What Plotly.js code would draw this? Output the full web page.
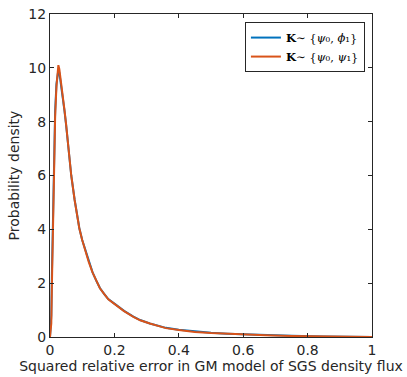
<!DOCTYPE html>
<html>
<head>
<meta charset="utf-8">
<script src="https://cdn.plot.ly/plotly-3.0.1.min.js"></script>
<style>html,body{margin:0;padding:0;background:#fff;}#plot{width:407px;height:377px;}</style>
</head>
<body>
<div id="plot"></div>
<script>
// Squared relative error (x) and probability density (y)
const errorValues = [0, 0.004, 0.006, 0.009, 0.013, 0.016, 0.020, 0.023, 0.026, 0.029, 0.033, 0.038, 0.045, 0.050, 0.058, 0.066, 0.0765, 0.085, 0.091, 0.100, 0.109, 0.120, 0.132, 0.145, 0.155, 0.168, 0.181, 0.200, 0.230, 0.259, 0.280, 0.310, 0.360, 0.400, 0.450, 0.500, 0.550, 0.610, 0.670, 0.750, 0.850, 0.930, 1.0];
const densityPsiPhi = [0, 0.8, 2.4, 4.4, 7.1, 8.4, 9.4, 9.8, 9.92, 9.82, 9.5, 9.05, 8.4, 7.88, 6.95, 6.0, 5.1, 4.46, 4.05, 3.6, 3.24, 2.81, 2.41, 2.06, 1.82, 1.6, 1.41, 1.24, 0.97, 0.76, 0.63, 0.5, 0.34, 0.27, 0.2, 0.155, 0.125, 0.095, 0.067, 0.042, 0.021, 0.009, 0.003];
const densityPsiPsi = [0, 0.5, 2.0, 4.0, 6.8, 8.2, 9.3, 9.9, 10.1, 9.95, 9.6, 9.1, 8.43, 7.9, 6.95, 6.0, 5.09, 4.45, 4.04, 3.6, 3.23, 2.8, 2.4, 2.05, 1.81, 1.6, 1.40, 1.23, 0.96, 0.75, 0.62, 0.5, 0.33, 0.26, 0.19, 0.15, 0.12, 0.09, 0.065, 0.04, 0.02, 0.008, 0.003];
const seriesNames = ['<b>K</b>∼ {<i>ψ</i>₀, <i>ϕ</i>₁}', '<b>K</b>∼ {<i>ψ</i>₀, <i>ψ</i>₁}'];
const xTicks = [0, 0.2, 0.4, 0.6, 0.8, 1];
const xTickLabels = ['0', '0.2', '0.4', '0.6', '0.8', '1'];
const yTicks = [0, 2, 4, 6, 8, 10, 12];

const traces = [
  {x: errorValues, y: densityPsiPhi, name: seriesNames[0], mode: 'lines', line: {color: '#0072BD', width: 2}},
  {x: errorValues, y: densityPsiPsi, name: seriesNames[1], mode: 'lines', line: {color: '#D95319', width: 2}}
];
const axisCommon = {
  showline: true, mirror: 'ticks', linecolor: '#262626', linewidth: 1,
  ticks: 'inside', ticklen: 4, tickcolor: '#262626', showgrid: false, zeroline: false,
  tickfont: {family: 'DejaVu Sans', size: 14, color: '#262626'}
};
const layout = {
  width: 407, height: 377,
  margin: {l: 50, r: 35, t: 14, b: 40},
  paper_bgcolor: '#fff', plot_bgcolor: '#fff',
  showlegend: true,
  legend: {x: 0.978, y: 0.975, xanchor: 'right', yanchor: 'top', bgcolor: '#fff', bordercolor: '#262626', borderwidth: 1,
    font: {family: 'DejaVu Serif', size: 11.5, color: '#000'}, itemwidth: 30, tracegroupgap: 0},
  xaxis: Object.assign({}, axisCommon, {range: [0, 1], tickvals: xTicks, ticktext: xTickLabels,
    title: {text: 'Squared relative error in GM model of SGS density flux', font: {family: 'DejaVu Sans', size: 14, color: '#262626'}, standoff: 4}}),
  yaxis: Object.assign({}, axisCommon, {range: [0, 12], tickvals: yTicks,
    title: {text: 'Probability density', font: {family: 'DejaVu Sans', size: 14, color: '#262626'}, standoff: 5}})
};
Plotly.newPlot('plot', traces, layout, {displayModeBar: false, staticPlot: true});
</script>
</body>
</html>
